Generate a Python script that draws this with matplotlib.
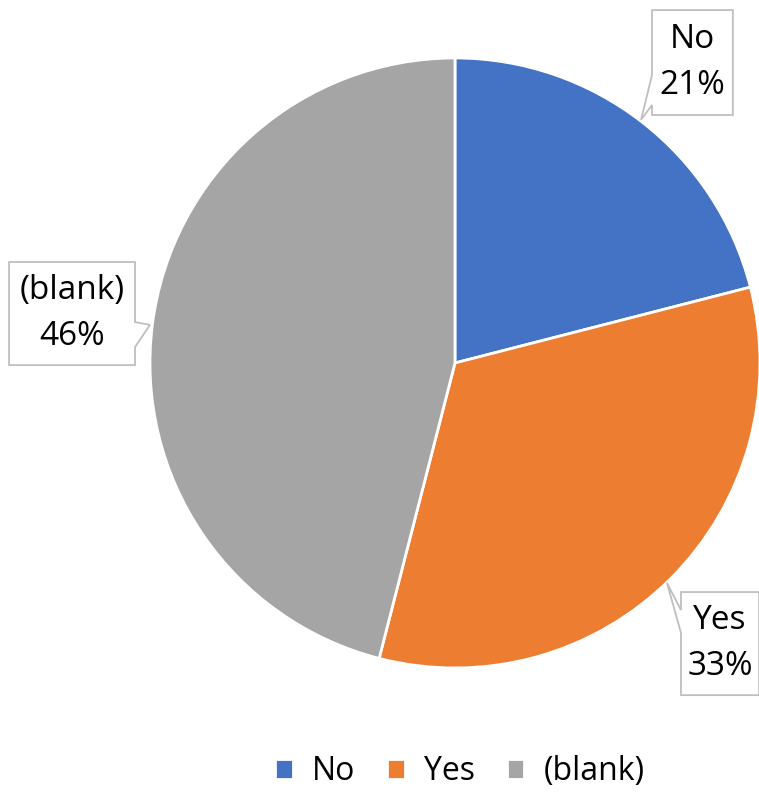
import matplotlib.pyplot as plt
from matplotlib.patches import Polygon

# dados do grafico
categorias = ['No', 'Yes', '(blank)']
valores = [21, 33, 46]
cores = ['#4472C4', '#ED7D31', '#A5A5A5']

plt.rcParams['font.family'] = ['Open Sans', 'DejaVu Sans']

fig = plt.figure(figsize=(7.59, 7.94), dpi=100)
ax = fig.add_axes([0.1976, 0.1587, 0.8037, 0.7683])

fatias, _ = ax.pie(valores, colors=cores, startangle=90, counterclock=False,
                   radius=1, wedgeprops=dict(edgecolor='white', linewidth=2))
ax.set_xlim(-1, 1)
ax.set_ylim(-1, 1)
ax.set_aspect('equal')
ax.axis('off')

# caixas dos rotulos: (x0, x1, y_topo, y_baixo), lado da ponta, base da ponta, ponta
caixas = [((0.646, 0.911, 1.157, 0.813), 'esq', (0.944, 0.846), (0.61, 0.797)),
          ((0.741, 0.997, -0.751, -1.089), 'esq', (-0.810, -0.885), (0.695, -0.721)),
          ((-1.462, -1.049, 0.331, -0.007), 'dir', (0.134, 0.052), (-1.0, 0.125))]

for cat, val, (cx, lado, base, ponta) in zip(categorias, valores, caixas):
    x0, x1, yt, yb = cx
    if lado == 'esq':
        pts = [(x0, yt), (x1, yt), (x1, yb), (x0, yb), (x0, base[1]), ponta, (x0, base[0])]
    else:
        pts = [(x0, yt), (x1, yt), (x1, base[0]), ponta, (x1, base[1]), (x1, yb), (x0, yb)]
    ax.add_patch(Polygon(pts, closed=True, fc='white', ec='#BFBFBF', lw=1.3,
                         clip_on=False, zorder=3))
    ax.text((x0 + x1) / 2, (yt + yb) / 2, f'{cat}\n{val}%', ha='center', va='center',
            fontsize=24, linespacing=1.5, zorder=4, clip_on=False)

fig.legend(fatias, categorias, loc='center', bbox_to_anchor=(0.606, 0.028),
           ncol=3, frameon=False, fontsize=23, handlelength=0.55, handleheight=0.55,
           handletextpad=0.6, columnspacing=1.0)

fig.savefig('out.png', dpi=100)
